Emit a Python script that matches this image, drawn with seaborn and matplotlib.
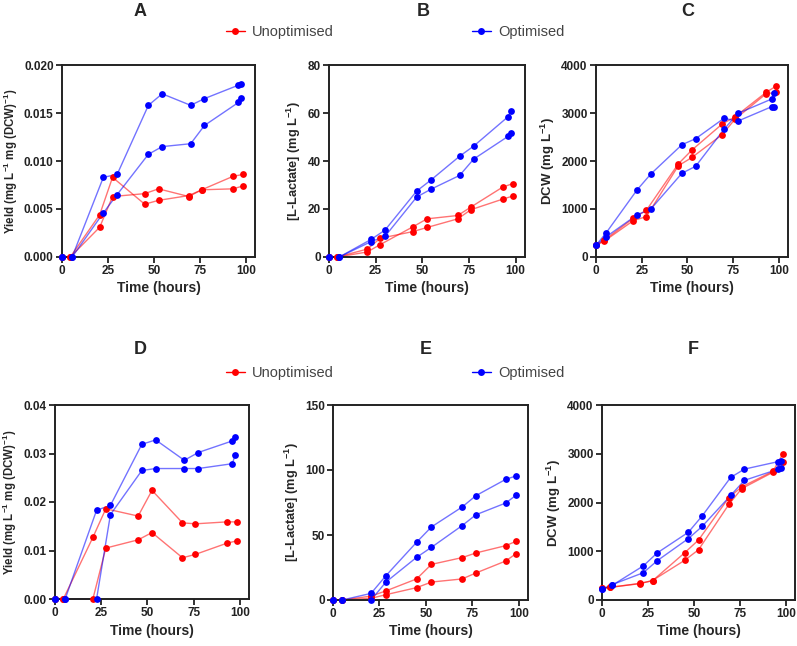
import numpy as np
import pandas as pd
import matplotlib
matplotlib.use("Agg")
import matplotlib.pyplot as plt
import seaborn as sns
from matplotlib.lines import Line2D
from matplotlib.ticker import FormatStrFormatter

sns.set_theme(style="ticks")
plt.rcParams['font.family'] = ['Liberation Sans', 'DejaVu Sans']
plt.rcParams['mathtext.fontset'] = 'custom'
plt.rcParams['mathtext.rm'] = 'Liberation Sans:bold'
plt.rcParams['mathtext.it'] = 'Liberation Sans:bold'
plt.rcParams['mathtext.bf'] = 'Liberation Sans:bold'
plt.rcParams['mathtext.default'] = 'regular'

# ---------------- data ----------------
conditions = ["Unoptimised", "Optimised"]
colors = {"Unoptimised": "#FF0000", "Optimised": "#0000FF"}

time_opt = [0, 5.5, 22.5, 30, 47, 54.5, 70, 77.5, 96, 97.5]
time_unopt = [0, 4.5, 20.5, 27.5, 45, 52.5, 69, 76, 93, 98.5]
time_lactate_E = [0, 5, 20.5, 28.5, 45, 53, 69.5, 77, 93, 98.5]

# Panel A: yield (top experiment)
yield_A_opt1 = [0, 0, 0.0083, 0.0086, 0.0158, 0.0170, 0.0158, 0.0165, 0.0179, 0.0180]
yield_A_opt2 = [0, 0, 0.0046, 0.0065, 0.0107, 0.0115, 0.0118, 0.0137, 0.0161, 0.0166]
yield_A_unopt1 = [0, 0, 0.0044, 0.0083, 0.0055, 0.0059, 0.0064, 0.0070, 0.0071, 0.0074]
yield_A_unopt2 = [0, 0, 0.0031, 0.0063, 0.0066, 0.0071, 0.0063, 0.0070, 0.0084, 0.0086]

# Panel B: L-lactate
lac_B_opt1 = [0, 0, 7.3, 11.2, 27.5, 32.0, 42.0, 46.2, 58.5, 60.8]
lac_B_opt2 = [0, 0, 6.4, 8.6, 25.0, 28.2, 34.0, 40.8, 50.3, 51.8]
lac_B_unopt1 = [0, 0, 3.3, 7.8, 10.6, 12.3, 15.9, 19.7, 24.1, 25.4]
lac_B_unopt2 = [0, 0, 2.1, 5.2, 12.6, 15.9, 17.3, 20.8, 29.1, 30.6]

# Panel C: DCW
dcw_C_opt1 = [245, 500, 1400, 1730, 2340, 2465, 2890, 2830, 3130, 3135]
dcw_C_opt2 = [245, 420, 880, 1000, 1745, 1890, 2660, 2990, 3290, 3410]
dcw_C_unopt1 = [245, 350, 810, 970, 1940, 2230, 2770, 2920, 3430, 3560]
dcw_C_unopt2 = [245, 330, 760, 840, 1900, 2075, 2550, 2870, 3400, 3430]

# Panel D: yield (bottom experiment)
yield_D_opt1 = [0, 0, 0.0183, 0.0193, 0.0319, 0.0328, 0.0286, 0.0302, 0.0326, 0.0335]
yield_D_opt2 = [0, 0, 0, 0.0174, 0.0265, 0.0269, 0.0269, 0.0269, 0.0279, 0.0297]
yield_D_unopt1 = [0, 0, 0.0127, 0.0186, 0.0171, 0.0224, 0.0157, 0.0155, 0.0159, 0.0159]
yield_D_unopt2 = [0, 0, 0, 0.0105, 0.0122, 0.0137, 0.0085, 0.0092, 0.0115, 0.0120]

# Panel E: L-lactate
lac_E_opt1 = [0, 0, 5.1, 18.7, 44.4, 56.2, 71.5, 80.3, 92.8, 95.4]
lac_E_opt2 = [0, 0, 0, 13.8, 32.8, 40.5, 57.2, 65.6, 74.6, 80.5]
lac_E_unopt1 = [0, 0, 3.0, 7.0, 16.2, 27.4, 32.6, 36.2, 41.8, 45.1]
lac_E_unopt2 = [0, 0, 1.3, 4.1, 9.5, 13.8, 16.2, 20.8, 30.0, 35.6]

# Panel F: DCW
dcw_F_opt1 = [220, 300, 700, 965, 1390, 1725, 2515, 2685, 2840, 2855]
dcw_F_opt2 = [220, 315, 560, 805, 1260, 1510, 2145, 2455, 2685, 2715]
dcw_F_unopt1 = [240, 260, 335, 400, 815, 1030, 1960, 2285, 2620, 2840]
dcw_F_unopt2 = [240, 260, 340, 395, 970, 1230, 2100, 2320, 2640, 3005]

panel_titles = ["A", "B", "C", "D", "E", "F"]
x_ticks = [0, 25, 50, 75, 100]
ylab_yield = "Yield (mg L$^{-1}$ mg (DCW)$^{-1}$)"
ylab_lac = "[L-Lactate] (mg L$^{-1}$)"
ylab_dcw = "DCW (mg L$^{-1}$)"
xlab = "Time (hours)"


def long_df(t_unopt, u1, u2, t_opt, o1, o2):
    rows = []
    for rep, vals in ((1, u1), (2, u2)):
        for t, v in zip(t_unopt, vals):
            rows.append(("Unoptimised", rep, t, v))
    for rep, vals in ((1, o1), (2, o2)):
        for t, v in zip(t_opt, vals):
            rows.append(("Optimised", rep, t, v))
    return pd.DataFrame(rows, columns=["condition", "rep", "time", "value"])


panels = [
    dict(df=long_df(time_unopt, yield_A_unopt1, yield_A_unopt2, time_opt, yield_A_opt1, yield_A_opt2),
         ylim=(0, 0.020), yticks=[0, 0.005, 0.010, 0.015, 0.020], fmt="%.3f", ylabel=ylab_yield,
         ylsize=8.3, box=(62, 65, 255, 257)),
    dict(df=long_df(time_unopt, lac_B_unopt1, lac_B_unopt2, time_opt, lac_B_opt1, lac_B_opt2),
         ylim=(0, 80), yticks=[0, 20, 40, 60, 80], fmt="%d", ylabel=ylab_lac,
         ylsize=9.2, box=(329, 65, 525, 257)),
    dict(df=long_df(time_unopt, dcw_C_unopt1, dcw_C_unopt2, time_opt, dcw_C_opt1, dcw_C_opt2),
         ylim=(0, 4000), yticks=[0, 1000, 2000, 3000, 4000], fmt="%d", ylabel=ylab_dcw,
         ylsize=9.5, box=(596, 65, 788, 257)),
    dict(df=long_df(time_unopt, yield_D_unopt1, yield_D_unopt2, time_opt, yield_D_opt1, yield_D_opt2),
         ylim=(0, 0.04), yticks=[0, 0.01, 0.02, 0.03, 0.04], fmt="%.2f", ylabel=ylab_yield,
         ylsize=8.3, box=(55, 405, 249, 599)),
    dict(df=long_df(time_lactate_E, lac_E_unopt1, lac_E_unopt2, time_lactate_E, lac_E_opt1, lac_E_opt2),
         ylim=(0, 150), yticks=[0, 50, 100, 150], fmt="%d", ylabel=ylab_lac,
         ylsize=9.2, box=(333, 405, 528, 600)),
    dict(df=long_df(time_unopt, dcw_F_unopt1, dcw_F_unopt2, time_opt, dcw_F_opt1, dcw_F_opt2),
         ylim=(0, 4000), yticks=[0, 1000, 2000, 3000, 4000], fmt="%d", ylabel=ylab_dcw,
         ylsize=9.5, box=(602, 405, 795, 600)),
]

W, H = 797, 646
fig = plt.figure(figsize=(W / 100, H / 100), dpi=100)
fig.patch.set_facecolor("white")

for title, p in zip(panel_titles, panels):
    l, t, r, b = p["box"]
    ax = fig.add_axes([l / W, 1 - b / H, (r - l) / W, (b - t) / H])
    df = p["df"]
    for cond in conditions:
        sub = df[df["condition"] == cond]
        sns.lineplot(data=sub, x="time", y="value", units="rep", estimator=None,
                     color=colors[cond], lw=1.0, alpha=0.55, legend=False, ax=ax,
                     clip_on=False, zorder=2)
        sns.scatterplot(data=sub, x="time", y="value", color=colors[cond], s=24,
                        linewidth=0, legend=False, ax=ax, clip_on=False, zorder=3)
    ax.set_xlim(0, 105)
    ax.set_ylim(*p["ylim"])
    ax.set_xticks(x_ticks)
    ax.set_yticks(p["yticks"])
    ax.yaxis.set_major_formatter(FormatStrFormatter(p["fmt"]))
    ax.set_xlabel(xlab, fontsize=10, fontweight="bold", labelpad=3)
    ax.set_ylabel(p["ylabel"], fontsize=p["ylsize"], fontweight="bold", labelpad=3)
    for s in ax.spines.values():
        s.set_linewidth(1.4)
        s.set_color("#222222")
        s.set_visible(True)
    ax.tick_params(direction="out", length=4, width=1.3, color="#222222",
                   labelsize=8.5, pad=2)
    for lab in ax.get_xticklabels() + ax.get_yticklabels():
        lab.set_fontweight("bold")
        lab.set_color("#222222")

title_pos = {"A": (140, 11), "B": (423, 11), "C": (688, 11),
             "D": (140, 349), "E": (426, 349), "F": (693, 349)}
for k, (x, y) in title_pos.items():
    fig.text(x / W, 1 - y / H, k, fontsize=13, fontweight="bold", ha="center", va="center")

for yc in (32, 373):
    for cond, xs in zip(conditions, (226, 472)):
        h = Line2D([0], [0], color=colors[cond], lw=1.0, marker="o", markersize=5,
                   markeredgewidth=0)
        fig.legend([h], [cond], loc="center left", bbox_to_anchor=(xs / W, 1 - yc / H),
                   frameon=False, fontsize=10.5, handlelength=1.3, handletextpad=0.5,
                   borderaxespad=0, borderpad=0, labelcolor="#444444")

fig.savefig("out.png", dpi=100, facecolor="white")
